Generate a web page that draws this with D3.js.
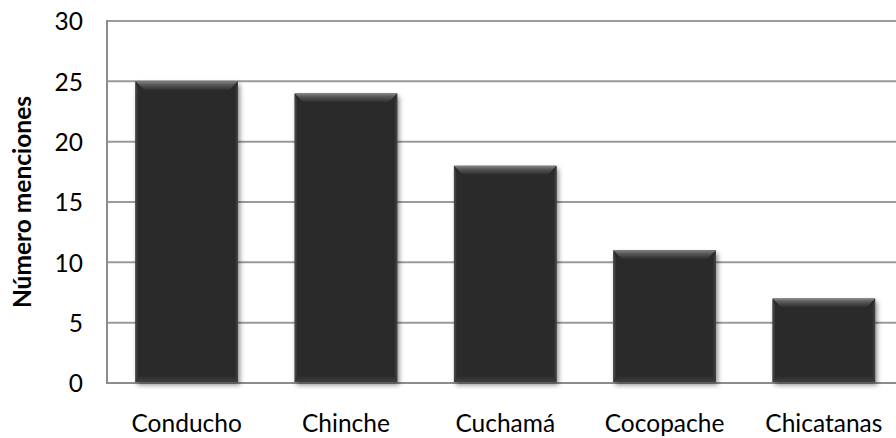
<!DOCTYPE html>
<html>
<head>
<meta charset="utf-8">
<script src="https://cdn.jsdelivr.net/npm/d3@7"></script>
<style>
  html, body { margin: 0; padding: 0; background: #fff; }
  svg { display: block; }
  text { font-family: Lato, "Open Sans", sans-serif; fill: #000; }
</style>
</head>
<body>
<svg id="chart" width="896" height="438"></svg>
<script>
// Mentions per insect
const categories = ["Conducho", "Chinche", "Cuchamá", "Cocopache", "Chicatanas"];
const mentions = [25, 24, 18, 11, 7];
const yTicks = [0, 5, 10, 15, 20, 25, 30];
const yTitle = "Número menciones";

const W = 896, H = 438;
const plot = { left: 107, top: 21, bottom: 383, right: 903.5 };
const fontSize = 24.5;

const svg = d3.select("#chart");

const x = d3.scaleBand()
  .domain(categories)
  .range([plot.left, plot.right])
  .padding(0);

const y = d3.scaleLinear()
  .domain([0, 30])
  .range([plot.bottom, plot.top]);

const barW = x.bandwidth() * 0.644;
const barX = c => x(c) + (x.bandwidth() - barW) / 2;

const defs = svg.append("defs");
const shadow = defs.append("filter").attr("id", "shadow")
  .attr("x", "-10%").attr("y", "-10%").attr("width", "125%").attr("height", "125%");
shadow.append("feDropShadow")
  .attr("dx", 2).attr("dy", 3).attr("stdDeviation", 2.5)
  .attr("flood-color", "#000").attr("flood-opacity", 0.45);

function grad(id, x1, y1, x2, y2, stops) {
  const g = defs.append("linearGradient").attr("id", id)
    .attr("x1", x1).attr("y1", y1).attr("x2", x2).attr("y2", y2);
  stops.forEach(([o, c]) => g.append("stop").attr("offset", o).attr("stop-color", c));
}
grad("bevTop", 0, 0, 0, 1, [[0, "#858585"], [0.35, "#5a5a5a"], [1, "#2c2c2c"]]);
grad("bevLeft", 0, 0, 1, 0, [[0, "#4e4e4e"], [1, "#2b2b2b"]]);
grad("bevRight", 1, 0, 0, 0, [[0, "#454545"], [1, "#2b2b2b"]]);
grad("bevBottom", 0, 1, 0, 0, [[0, "#404040"], [1, "#2b2b2b"]]);

// Horizontal gridlines
svg.append("g").selectAll("line")
  .data(yTicks.filter(t => t > 0))
  .join("line")
  .attr("x1", plot.left).attr("x2", W)
  .attr("y1", d => y(d)).attr("y2", d => y(d))
  .attr("stroke", "#9a9a9a").attr("stroke-width", 2);

// Axes lines
svg.append("line")
  .attr("x1", plot.left).attr("x2", plot.left)
  .attr("y1", y(30) - 1).attr("y2", y(0) + 1)
  .attr("stroke", "#8c8c8c").attr("stroke-width", 2);
svg.append("line")
  .attr("x1", plot.left - 1).attr("x2", W)
  .attr("y1", y(0)).attr("y2", y(0))
  .attr("stroke", "#8c8c8c").attr("stroke-width", 2);

// Bars with bevel
const bars = svg.append("g").selectAll("g")
  .data(categories.map((c, i) => ({ cat: c, value: mentions[i] })))
  .join("g");

bars.append("rect")
  .attr("x", d => barX(d.cat))
  .attr("y", d => y(d.value))
  .attr("width", barW)
  .attr("height", d => y(0) - y(d.value) - 1)
  .attr("fill", "#2b2b2b")
  .attr("filter", "url(#shadow)");

const bt = 9, bs = 3, bb = 6;
bars.append("polygon")
  .attr("points", d => {
    const x0 = barX(d.cat), x1 = x0 + barW, y0 = y(d.value);
    return [[x0, y0], [x1, y0], [x1 - bt, y0 + bt], [x0 + bt, y0 + bt]].join(" ");
  })
  .attr("fill", "url(#bevTop)");
bars.append("polygon")
  .attr("points", d => {
    const x0 = barX(d.cat), y0 = y(d.value), y1 = y(0) - 1;
    return [[x0, y0], [x0 + bs, y0 + bt], [x0 + bs, y1 - bb], [x0, y1]].join(" ");
  })
  .attr("fill", "url(#bevLeft)");
bars.append("polygon")
  .attr("points", d => {
    const x1 = barX(d.cat) + barW, y0 = y(d.value), y1 = y(0) - 1;
    return [[x1, y0], [x1 - bs, y0 + bt], [x1 - bs, y1 - bb], [x1, y1]].join(" ");
  })
  .attr("fill", "url(#bevRight)");
bars.append("polygon")
  .attr("points", d => {
    const x0 = barX(d.cat), x1 = x0 + barW, y1 = y(0) - 1;
    return [[x0, y1], [x0 + bs, y1 - bb], [x1 - bs, y1 - bb], [x1, y1]].join(" ");
  })
  .attr("fill", "url(#bevBottom)");

// Y tick labels
const yAxis = svg.append("g")
  .attr("transform", `translate(${plot.left},0)`)
  .call(d3.axisLeft(y).tickValues(yTicks).tickSize(0).tickPadding(24));
yAxis.select(".domain").remove();
yAxis.selectAll("text")
  .attr("font-family", "Lato, 'Open Sans', sans-serif")
  .attr("font-size", fontSize)
  .attr("fill", "#000")
  .attr("dy", "0.36em");

// X category labels
const xAxis = svg.append("g")
  .attr("transform", `translate(0,${plot.bottom})`)
  .call(d3.axisBottom(x).tickSize(0).tickPadding(32));
xAxis.select(".domain").remove();
xAxis.selectAll("text")
  .attr("font-family", "Lato, 'Open Sans', sans-serif")
  .attr("font-size", fontSize)
  .attr("fill", "#000");

// Y axis title
svg.append("text")
  .attr("transform", `translate(31,${(plot.top + plot.bottom) / 2}) rotate(-90)`)
  .attr("text-anchor", "middle")
  .attr("font-size", fontSize)
  .attr("font-weight", "bold")
  .text(yTitle);
</script>
</body>
</html>
